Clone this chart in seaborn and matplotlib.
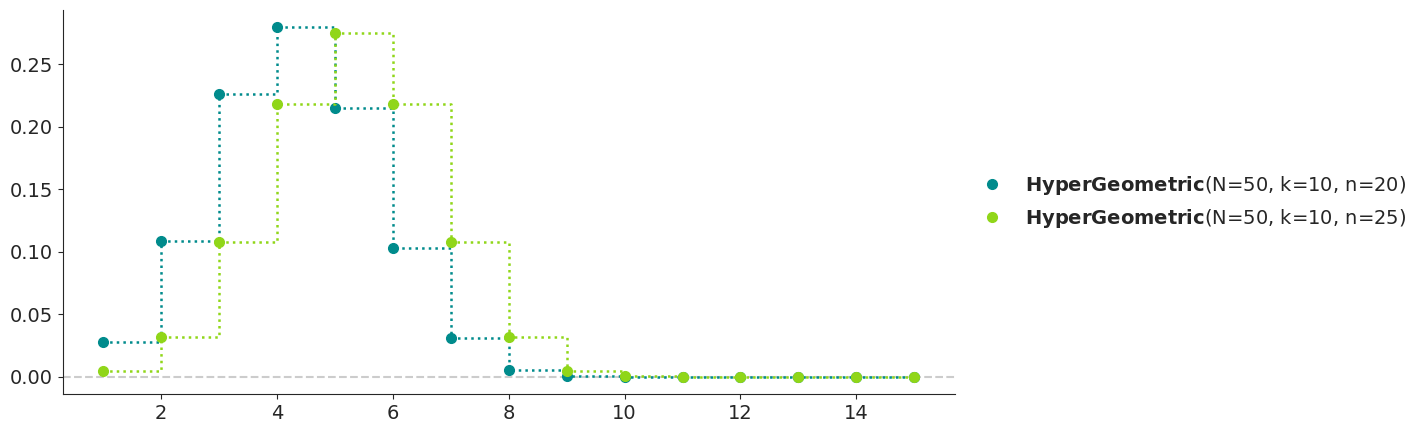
import numpy as np
import pandas as pd
import seaborn as sns
import matplotlib
matplotlib.use("Agg")
import matplotlib.pyplot as plt

x = np.arange(1, 16)
pmf_n20 = [0.028, 0.1086, 0.226, 0.2795, 0.215, 0.103, 0.0311, 0.0056,
           0.0006, 0.00003, 0.0, 0.0, 0.0, 0.0, 0.0]
pmf_n25 = [0.0048, 0.032, 0.108, 0.218, 0.2748, 0.218, 0.108, 0.032,
           0.0048, 0.0003, 0.00001, 0.0, 0.0, 0.0, 0.0]
labels = [r"$\bf{HyperGeometric}$(N=50, k=10, n=20)",
          r"$\bf{HyperGeometric}$(N=50, k=10, n=25)"]
colors = ["#008b8c", "#90d619"]

sns.set_style("ticks")
plt.rcParams['font.family'] = ['DejaVu Sans']
plt.rcParams['font.size'] = 14

fig, ax = plt.subplots(figsize=(14.25, 4.33), dpi=100)

for pmf, lab, col in zip([pmf_n20, pmf_n25], labels, colors):
    sns.lineplot(x=x, y=pmf, ax=ax, drawstyle="steps-post", linestyle=":",
                 color=col, linewidth=1.8)
    ax.plot(x, pmf, "o", color=col, markersize=7, label=lab)

ax.axhline(0, color="#cccccc", linestyle="--", linewidth=1.5, zorder=0)

ax.set_xticks([2, 4, 6, 8, 10, 12, 14])
ax.tick_params(labelsize=14)
sns.despine(ax=ax)
ax.legend(loc="center left", bbox_to_anchor=(1.0, 0.5), frameon=False,
          fontsize=14, handletextpad=0.7)

fig.subplots_adjust(left=0.044, right=0.67, top=0.977, bottom=0.09)
fig.savefig("out.png", dpi=100)
